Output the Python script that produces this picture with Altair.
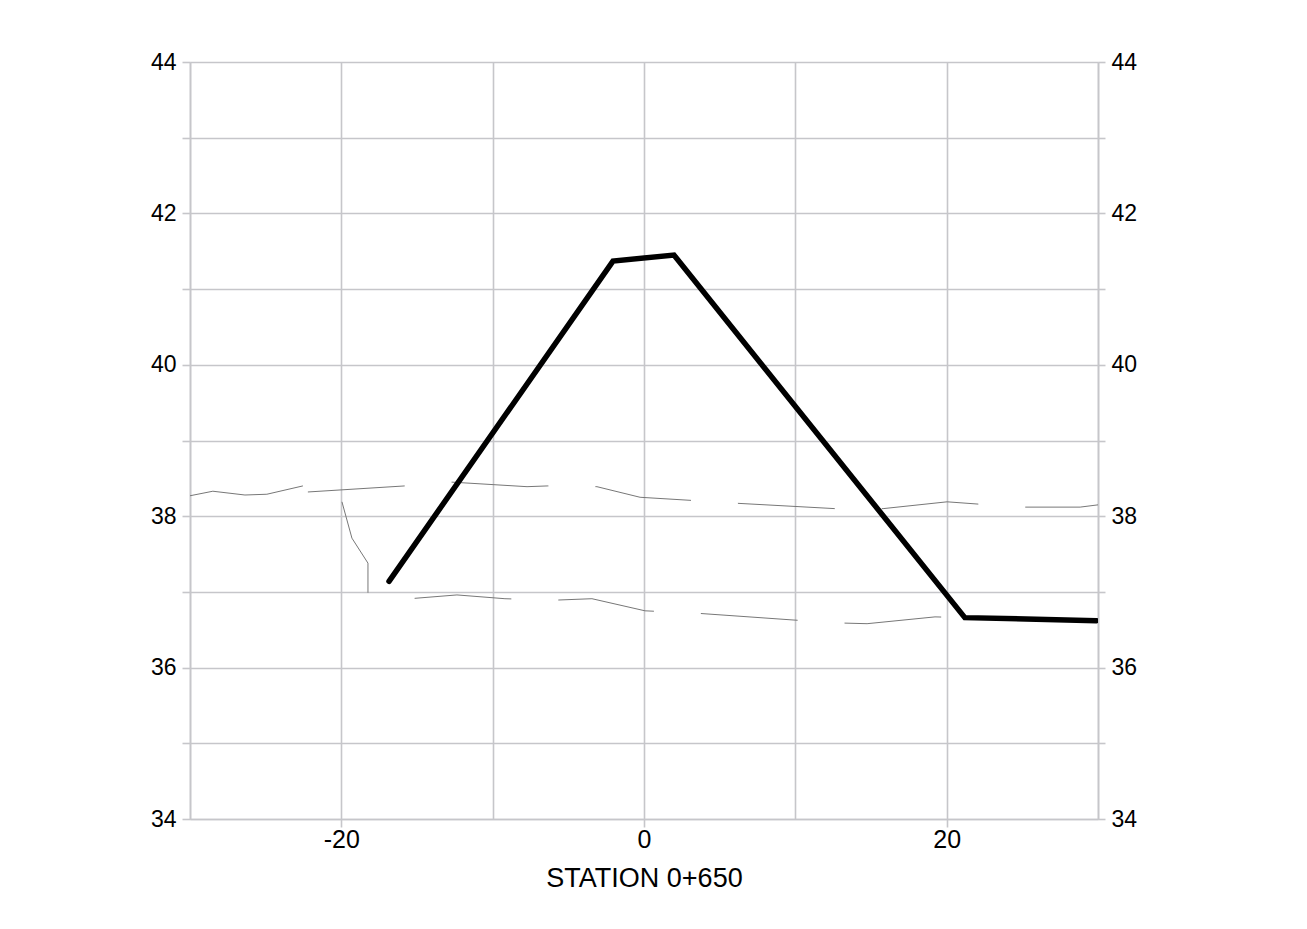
import altair as alt
import pandas as pd

# Design cross-section (thick black)
design_x = [-16.85, -2.05, 1.98, 21.2, 29.9]
design_y = [37.14, 41.37, 41.45, 36.66, 36.62]

# Upper ground line, left solid piece
upper_left_x = [-30.0, -28.49, -26.37, -24.92, -22.54]
upper_left_y = [38.27, 38.33, 38.28, 38.29, 38.40]

# Upper ground line, dashed piece
upper_x = [-22.21, -15.80, -12.69, -7.73, -6.35, -3.11, -0.26, 3.04, 6.21, 12.62, 15.80, 20.03, 22.08, 25.18, 28.82, 30.0]
upper_y = [38.32, 38.40, 38.45, 38.39, 38.40, 38.39, 38.25, 38.21, 38.17, 38.10, 38.10, 38.19, 38.16, 38.12, 38.12, 38.15]

# Lower ground line (starts with the short descent)
lower_x = [-19.96, -19.30, -18.24, -18.24, -15.47, -12.36, -9.19, -6.01, -3.44, 0.07, 3.37, 9.78, 12.82, 14.74, 19.23, 21.2, 30.0]
lower_y = [38.19, 37.71, 37.38, 36.99, 36.91, 36.96, 36.91, 36.89, 36.91, 36.75, 36.72, 36.63, 36.59, 36.58, 36.67, 36.66, 36.60]

x_grid_values = [-30, -20, -10, 0, 10, 20, 30]
y_values = [34, 35, 36, 37, 38, 39, 40, 41, 42, 43, 44]
x_title = "STATION 0+650"

FONT = "Liberation Sans"
GRID = "#c6c6ca"


def frame(xs, ys):
    return pd.DataFrame({"x": xs, "y": ys, "i": list(range(len(xs)))})


xscale = alt.Scale(domain=[-30, 30], nice=False, zero=False)
yscale = alt.Scale(domain=[34, 44], nice=False, zero=False)

x_axis = alt.Axis(
    values=x_grid_values,
    labelExpr="datum.value % 20 === 0 ? ('' + datum.value) : ''",
    tickOpacity={"condition": {"test": "datum.value % 20 === 0", "value": 1}, "value": 0},
    grid=True, gridColor=GRID, gridWidth=1.6,
    domainColor=GRID, domainWidth=1.6,
    tickColor=GRID, tickWidth=1.6, tickSize=8,
    labelFont=FONT, labelFontSize=25, labelColor="black", labelPadding=0,
    title=x_title, titleFont=FONT, titleFontSize=27, titleFontWeight="normal",
    titleColor="black", titlePadding=13,
)

y_left = alt.Axis(
    orient="left", values=y_values,
    labelExpr="datum.value % 2 === 0 ? ('' + datum.value) : ''",
    grid=True, gridColor=GRID, gridWidth=1.6,
    domainColor=GRID, domainWidth=1.6,
    tickColor=GRID, tickWidth=1.6, tickSize=8,
    labelFont=FONT, labelFontSize=23, labelColor="black", labelPadding=6,
    title=None,
)

y_right = alt.Axis(
    orient="right", values=y_values,
    labelExpr="datum.value % 2 === 0 ? ('' + datum.value) : ''",
    grid=False,
    domainColor=GRID, domainWidth=1.6,
    tickColor=GRID, tickWidth=1.6, tickSize=7,
    labelFont=FONT, labelFontSize=23, labelColor="black", labelPadding=6,
    title=None,
)


def layer(df, yaxis, **mark):
    return alt.Chart(df).mark_line(clip=True, **mark).encode(
        x=alt.X("x:Q", scale=xscale, axis=x_axis),
        y=alt.Y("y:Q", scale=yscale, axis=yaxis),
        order="i:Q",
    )


gray = "#777777"
l1 = layer(frame(upper_left_x, upper_left_y), y_right, color=gray, strokeWidth=1)
l2 = layer(frame(upper_x, upper_y), None, color=gray, strokeWidth=1, strokeDash=[97, 47])
l3 = layer(frame(lower_x, lower_y), None, color=gray, strokeWidth=1, strokeDash=[97, 47])
l4 = layer(frame(design_x, design_y), y_left, color="black", strokeWidth=5.5,
           strokeCap="round", strokeJoin="miter")

chart = alt.layer(l1, l2, l3, l4).resolve_axis(y="independent").properties(
    width=908, height=757,
    autosize=alt.AutoSizeParams(type="none"),
    padding={"left": 182, "top": 54, "right": 180, "bottom": 100},
    background="white",
).configure_view(stroke=None)

chart.save("out.html", embed_options={"renderer": "svg", "actions": False})
